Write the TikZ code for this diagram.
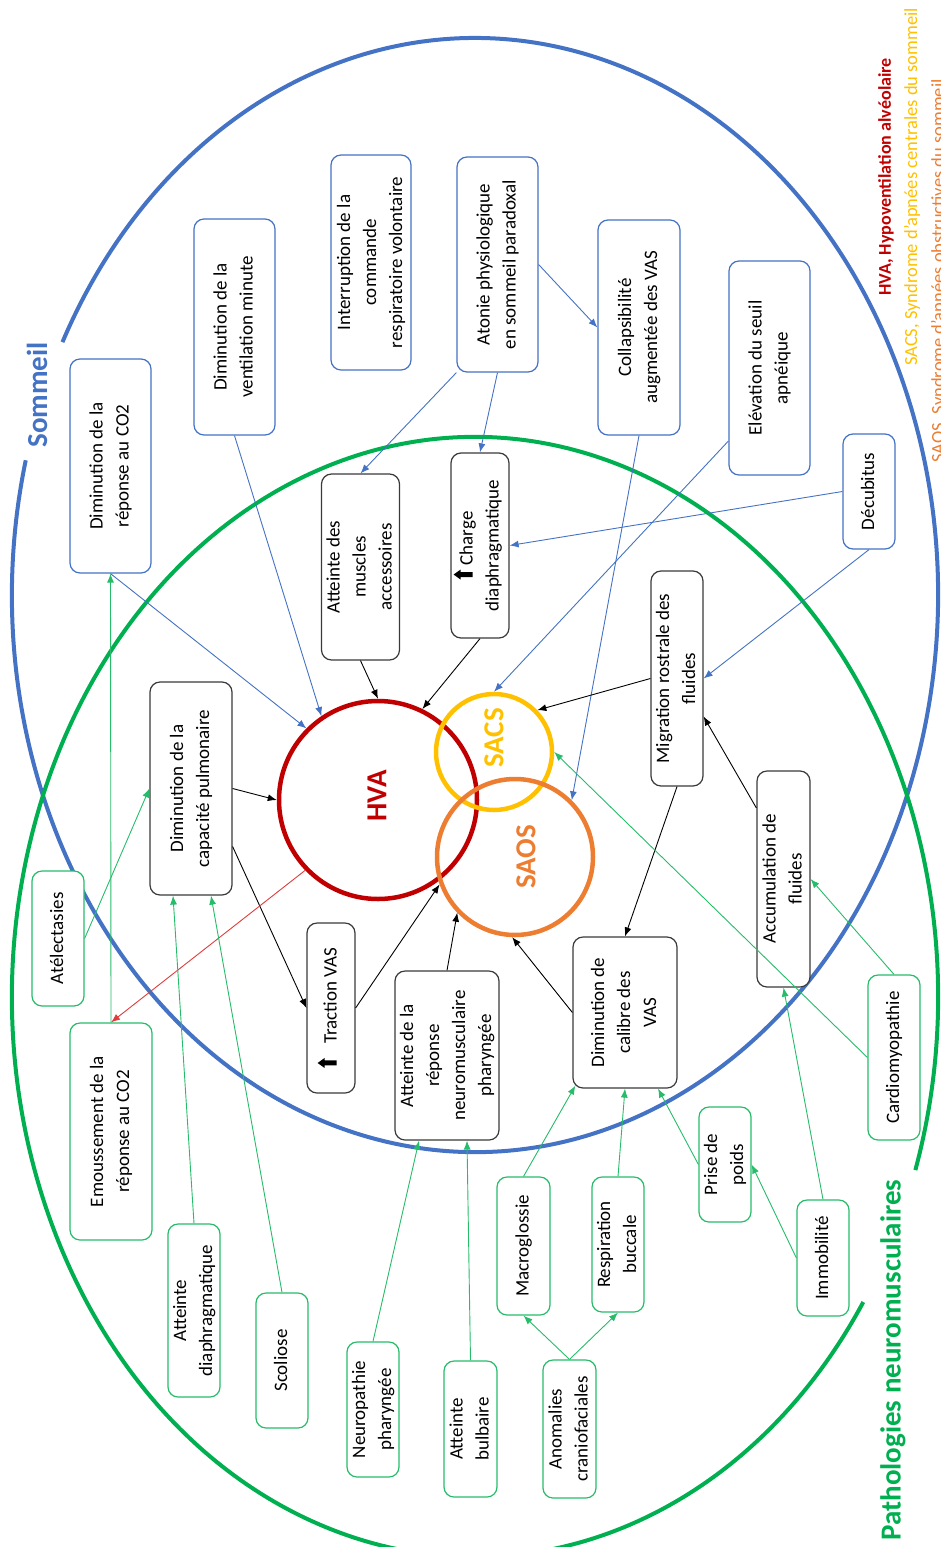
\documentclass[tikz,border=0pt]{standalone}
\usepackage{fontspec}
\setmainfont{Carlito}
\usepackage{graphicx}
\usetikzlibrary{arrows.meta}

\definecolor{sommeil}{HTML}{4472C4}
\definecolor{patho}{HTML}{00B050}
\definecolor{hvared}{HTML}{C00000}
\definecolor{sacsyel}{HTML}{FFC000}
\definecolor{saosor}{HTML}{ED7D31}
\definecolor{boxgray}{HTML}{3A3A3A}
\definecolor{linkred}{HTML}{E03C3C}

\newcommand{\vt}[1]{\rotatebox{90}{\begin{tabular}{@{}c@{}}#1\end{tabular}}}
% thick up arrow icon
\newcommand{\uparr}{\tikz[baseline=0pt]\fill[black,sharp corners] (-2.5pt,0pt) -- (2.5pt,0pt) -- (2.5pt,12pt) -- (5pt,12pt) -- (0pt,19pt) -- (-5pt,12pt) -- (-2.5pt,12pt) -- cycle;}

\tikzstyle{bx}=[rectangle,rounded corners=10pt,fill=white,inner sep=0pt,line width=1.2pt,font=\fontsize{19}{26}\selectfont]
\tikzstyle{bb}=[bx,draw=sommeil]
\tikzstyle{kb}=[bx,draw=boxgray]
\tikzstyle{gb}=[bx,draw=patho!85!white]
\tikzstyle{cr}=[shape=circle,inner sep=0pt,line width=4.5pt]
\tikzstyle{common}=[line width=0.9pt,>={Latex[length=9pt,width=7pt]}]
\tikzstyle{bto}=[->,common,sommeil]
\tikzstyle{kto}=[->,common,black]
\tikzstyle{gto}=[->,common,patho!85!white]
\tikzstyle{rto}=[->,common,linkred]

\begin{document}
\begin{tikzpicture}[x=1pt,y=-1pt]
    \useasboundingbox (0,0) rectangle (941,1547);

    % ellipses, each with a gap for its title
    \draw[sommeil, line width=4pt, shift={(475,595)}] (166:463pt and 557pt)
        arc[start angle=166, end angle=513, x radius=463pt, y radius=557pt];
    \draw[patho, line width=4pt, shift={(475,997)}] (-18:463pt and 560pt)
        arc[start angle=-18, end angle=327, x radius=463pt, y radius=560pt];
    \node[text=sommeil, font=\fontsize{29}{29}\selectfont\bfseries] (tsom) at (37,395) {\rotatebox{90}{Sommeil}};
    \node[text=patho, font=\fontsize{29}{29}\selectfont\bfseries] (tpat) at (893,1360) {\rotatebox{90}{Pathologies neuromusculaires}};

    % legend
    \node[text=hvared, font=\fontsize{18}{18}\selectfont\bfseries] (lhva) at (886,177) {\rotatebox{90}{HVA, Hypoventilation alvéolaire}};
    \node[text=sacsyel, font=\fontsize{18.5}{18.5}\selectfont] (lsacs) at (912,187) {\rotatebox{90}{SACS, Syndrome d’apnées centrales du sommeil}};
    \node[text=saosor, font=\fontsize{18.5}{18.5}\selectfont] (lsaos) at (939,271) {\rotatebox{90}{SAOS, Syndrome d’apnées obstructives du sommeil}};

    % circles
    \node[cr, draw=hvared, minimum size=198pt] (hva) at (378,800) {};
    \node[cr, draw=sacsyel, minimum size=116pt] (sacs) at (494,752) {};
    \node[cr, draw=saosor, minimum size=156pt] (saos) at (515,857) {};
    \node[text=hvared, font=\fontsize{29}{29}\selectfont\bfseries] (thva) at (377,796) {\rotatebox{90}{HVA}};
    \node[text=sacsyel, font=\fontsize{29}{29}\selectfont\bfseries] (tsacs) at (494,738) {\rotatebox{90}{SACS}};
    \node[text=saosor, font=\fontsize{29}{29}\selectfont\bfseries] (tsaos) at (526,857) {\rotatebox{90}{SAOS}};

    % sommeil
    \node[bb, minimum width=81pt, minimum height=214pt] (co2a) at (110.5,466) {\vt{Diminution de la\\réponse au CO2}};
    \node[bb, minimum width=81pt, minimum height=216pt] (vent) at (234.5,327) {\vt{Diminution de la\\ventilation minute}};
    \node[bb, minimum width=80pt, minimum height=215pt] (interr) at (371,262.5) {\vt{Interruption de la\\commande\\respiratoire volontaire}};
    \node[bb, minimum width=81pt, minimum height=215pt] (atonie) at (497.5,264.5) {\vt{Atonie physiologique\\en sommeil paradoxal}};
    \node[bb, minimum width=82pt, minimum height=215pt] (collaps) at (639,327.5) {\vt{Collapsibilité\\augmentée des VAS}};
    \node[bb, minimum width=81pt, minimum height=214pt] (elev) at (769.5,368) {\vt{Elévation du seuil\\apnéique}};
    \node[bb, minimum width=52pt, minimum height=115pt] (decub) at (869,491.5) {\vt{Décubitus}};

    % mechanisms
    \node[kb, minimum width=75pt, minimum height=186pt] (muscles) at (360.5,567) {\vt{Atteinte des\\muscles\\accessoires}};
    \node[kb, minimum width=58pt, minimum height=185pt] (charge) at (480,545.5) {\vt{\uparr\ Charge\\diaphragmatique}};
    \node[kb, minimum width=52pt, minimum height=215pt] (migr) at (677,678.5) {\vt{Migration rostrale des\\fluides}};
    \node[kb, minimum width=82pt, minimum height=213pt] (capac) at (191,788.5) {\vt{Diminution de la\\capacité pulmonaire}};
    \node[kb, minimum width=48pt, minimum height=170pt] (traction) at (331,1008) {\vt{\uparr\hspace{14pt}Traction VAS}};
    \node[kb, minimum width=104pt, minimum height=169pt] (neuro) at (447,1055.5) {\vt{Atteinte de la\\réponse\\neuromusculaire\\pharyngée}};
    \node[kb, minimum width=104pt, minimum height=151pt] (calibre) at (625,1012.5) {\vt{Diminution de\\calibre des\\VAS}};
    \node[kb, minimum width=53pt, minimum height=216pt] (accum) at (783.5,879) {\vt{Accumulation de\\fluides}};

    % pathologies
    \node[gb, minimum width=52pt, minimum height=135pt] (atelec) at (58,938.5) {\vt{Atélectasies}};
    \node[gb, minimum width=82pt, minimum height=217pt] (emouss) at (111,1131.5) {\vt{Emoussement de la\\réponse au CO2}};
    \node[gb, minimum width=52pt, minimum height=173pt] (diaph) at (194,1310.5) {\vt{Atteinte\\diaphragmatique}};
    \node[gb, minimum width=52pt, minimum height=135pt] (scol) at (282,1360.5) {\vt{Scoliose}};
    \node[gb, minimum width=52pt, minimum height=135pt] (neuropath) at (373,1409.5) {\vt{Neuropathie\\pharyngée}};
    \node[gb, minimum width=53pt, minimum height=136pt] (bulb) at (470.5,1429) {\vt{Atteinte\\bulbaire}};
    \node[gb, minimum width=53pt, minimum height=138pt] (macro) at (523.5,1246) {\vt{Macroglossie}};
    \node[gb, minimum width=52pt, minimum height=135pt] (respir) at (618,1244.5) {\vt{Respiration\\buccale}};
    \node[gb, minimum width=53pt, minimum height=138pt] (anomal) at (569.5,1429) {\vt{Anomalies\\craniofaciales}};
    \node[gb, minimum width=52pt, minimum height=115pt] (poids) at (725,1164.5) {\vt{Prise de\\poids}};
    \node[gb, minimum width=52pt, minimum height=116pt] (immob) at (823,1258) {\vt{Immobilité}};
    \node[gb, minimum width=52pt, minimum height=165pt] (cardio) at (894,1057.5) {\vt{Cardiomyopathie}};

    % links
    \draw[bto] (co2a.south) -- (hva.135);
    \draw[bto] (vent.south) -- (hva.124);
    \draw[bto] (atonie.south west) -- (muscles.north);
    \draw[bto] (atonie.south) -- (charge.north);
    \draw[bto] (atonie.east) -- (collaps.west);
    \draw[bto] (collaps.south) -- (saos.45);
    \draw[bto] ([yshift=-73pt]elev.west) -- (sacs.north);
    \draw[bto] (decub.west) -- (charge.east);
    \draw[bto] (decub.south) -- (migr.east);

    \draw[kto] (muscles.south) -- (hva.north);
    \draw[kto] (charge.south) -- (hva.64);
    \draw[kto] (migr.west) -- (sacs.44);
    \draw[kto] ([yshift=71pt]accum.west) -- ([yshift=-38pt]migr.east);
    \draw[kto] (migr.south) -- (calibre.north);
    \draw[kto] (capac.east) -- (hva.west);
    \draw[kto] ([yshift=-58pt]capac.east) -- (traction.west);
    \draw[kto] (traction.east) -- (saos.200);
    \draw[kto] (neuro.north) -- (saos.224);
    \draw[kto] (calibre.west) -- (saos.268);

    \draw[rto] (hva.224) -- (emouss.north);

    \draw[gto] (emouss.north) -- (co2a.south);
    \draw[gto] (atelec.east) -- (capac.west);
    \draw[gto] (diaph.north) -- ([xshift=-18pt]capac.south);
    \draw[gto] (scol.north) -- ([xshift=20pt]capac.south);
    \draw[gto] (neuropath.north) -- ([xshift=-28pt]neuro.south);
    \draw[gto] (bulb.north) -- ([xshift=20pt]neuro.south);
    \draw[gto] (macro.north) -- ([shift={(3pt,3pt)}]calibre.south west);
    \draw[gto] (respir.north) -- (calibre.south);
    \draw[gto] (poids.west) -- ([xshift=33pt]calibre.south);
    \draw[gto] (anomal.north) -- (macro.south);
    \draw[gto] (anomal.north) -- (respir.south);
    \draw[gto] (immob.west) -- (poids.east);
    \draw[gto] (immob.north) -- (accum.south);
    \draw[gto] (cardio.north) -- (accum.east);
    \draw[gto] (cardio.west) -- (sacs.east);
\end{tikzpicture}
\end{document}
